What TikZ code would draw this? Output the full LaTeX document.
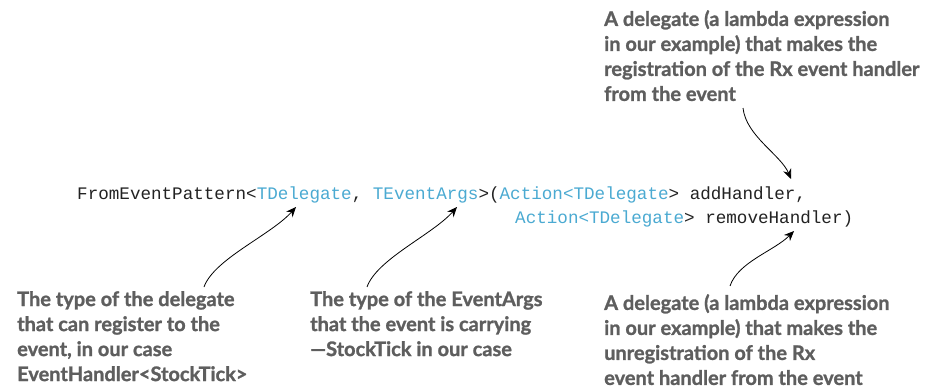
\documentclass[tikz,border=0pt]{standalone}
\usepackage{fontspec}
\setmonofont{Liberation Mono}
\newfontfamily\lblfont{Lato}[BoldFeatures={FakeBold=1.2}]
\usetikzlibrary{positioning,calc,arrows.meta}
\definecolor{cBlue}{HTML}{4BAAD2}
\definecolor{cInk}{HTML}{222222}
\definecolor{cGrey}{HTML}{5E5E5E}
\newcommand\tp[1]{\textcolor{cBlue}{#1}}
\tikzset{
  code/.style={anchor=base west,inner sep=0pt,text=cInk,font=\ttfamily\fontsize{17.6}{24}\selectfont},
  lbl/.style={anchor=north west,inner sep=0pt,align=left,text=cGrey,font=\lblfont\bfseries\fontsize{20}{25}\selectfont},
  pnt/.style={-{Stealth[length=10pt,width=8.5pt]},line width=0.8pt,black},
}
\begin{document}
\begin{tikzpicture}[x=1pt,y=-1pt]
  \useasboundingbox[fill=white] (0,0) rectangle (944,390);
  % code lines
  \node[code] (lineA) at (77,199) {FromEventPattern<\tp{TDelegate}, \tp{TEventArgs}>(\tp{Action<TDelegate}> addHandler,};
  \node[code] (lineB) at (515,223) {\tp{Action<TDelegate}> removeHandler)};
  % labels
  \node[lbl] (lblAdd) at (604,10) {A delegate (a lambda expression\\in our example) that makes the\\registration of the Rx event handler\\from the event};
  \node[lbl] (lblType) at (17,291) {The type of the delegate\\that can register to the\\event, in our case\\EventHandler<StockTick>};
  \node[lbl] (lblArgs) at (310,291) {The type of the EventArgs\\that the event is carrying\\\textemdash StockTick in our case};
  \node[lbl] (lblRemove) at (604,294) {A delegate (a lambda expression\\in our example) that makes the\\unregistration of the Rx\\event handler from the event};
  % arrow ends
  \coordinate (tType) at (296,207);
  \coordinate (tArgs) at (457,207);
  \coordinate (tRemove) at (794,231);
  \coordinate (tAdd) at (791,179);
  \coordinate (sType) at (204,287);
  \coordinate (sArgs) at (367,287);
  \coordinate (sRemove) at (730,286);
  \coordinate (sAdd) at (743,108);
  \draw[pnt] (sType) .. controls +(10,-28) and +(-25,28) .. (tType);
  \draw[pnt] (sArgs) .. controls +(10,-28) and +(-25,28) .. (tArgs);
  \draw[pnt] (sRemove) .. controls +(8,-24) and +(-20,20) .. (tRemove);
  \draw[pnt] (sAdd) .. controls +(3,28) and +(-10,-24) .. (tAdd);
\end{tikzpicture}
\end{document}
